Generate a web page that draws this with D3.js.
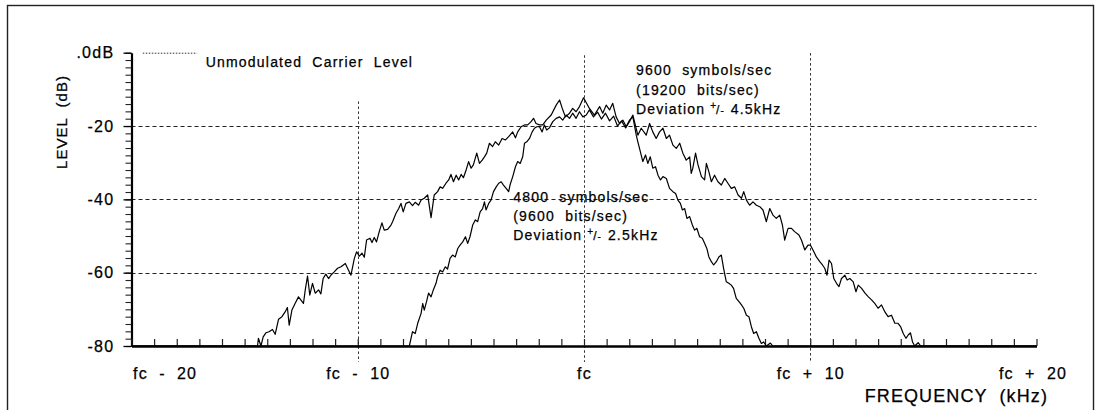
<!DOCTYPE html>
<html><head><meta charset="utf-8">
<script src="https://cdn.jsdelivr.net/npm/d3@7"></script>
<style>
html,body{margin:0;padding:0;background:#fff;}
svg{display:block;font-family:"Liberation Sans",Arial,Helvetica,sans-serif;}
text{white-space:pre;fill:#000;stroke:#000;stroke-width:0.25px;}
</style></head><body>
<svg id="chart" width="1096" height="410"></svg>
<script>
// Spectrum traces: [frequency offset from carrier (kHz), level (dB)]
const wide9600 = [
[-20,-80],[-14.6,-80],[-14.43,-80],[-14.39,-77.9],[-14.28,-80],[-14.18,-77.5],[-14.06,-76.4],[-13.92,-76.1],[-13.77,-75.5],[-13.65,-76.8],
[-13.50,-72.7],[-13.35,-72.0],[-13.21,-70.7],[-13.11,-69.5],[-13.03,-74.3],[-12.91,-70.2],[-12.77,-68.4],[-12.62,-66.6],[-12.51,-67.5],[-12.40,-68.4],
[-12.32,-64.7],[-12.22,-60.9],[-12.12,-66.1],[-12.00,-62.9],[-11.88,-65.6],[-11.73,-64.7],[-11.63,-65.8],[-11.53,-61.6],[-11.41,-60.4],[-11.29,-61.6],
[-11.19,-60.7],[-11.04,-59.8],[-10.89,-58.8],[-10.74,-58.4],[-10.55,-57.5],[-10.45,-58.8],[-10.30,-60.7],[-10.15,-56.1],[-10.05,-54.3],[-9.93,-55.5],
[-9.81,-54.7],[-9.71,-55.8],[-9.61,-51.1],[-9.46,-50.6],[-9.37,-51.8],[-9.27,-50.4],[-9.17,-51.6],[-9.05,-48.8],[-8.93,-46.4],[-8.83,-48.4],
[-8.68,-48.2],[-8.53,-47.0],[-8.46,-46.1],[-8.31,-43.8],[-8.19,-42.5],[-8.09,-41.1],[-7.99,-43.4],[-7.87,-41.1],[-7.72,-40.7],[-7.58,-41.7],
[-7.46,-40.8],[-7.31,-41.6],[-7.20,-40.2],[-7.06,-39.7],[-6.91,-38.8],[-6.76,-45.0],[-6.62,-38.8],[-6.47,-37.9],[-6.36,-36.6],[-6.25,-37.0],
[-6.10,-35.6],[-5.98,-34.7],[-5.88,-33.2],[-5.77,-35.2],[-5.65,-33.4],[-5.54,-34.7],[-5.43,-33.2],[-5.33,-34.1],[-5.21,-32.0],[-5.10,-29.7],
[-4.99,-31.5],[-4.89,-30.6],[-4.74,-27.4],[-4.62,-30.2],[-4.50,-29.3],[-4.40,-28.4],[-4.30,-27.4],[-4.18,-24.7],[-4.04,-25.6],[-3.92,-24.3],
[-3.77,-25.2],[-3.62,-23.4],[-3.47,-23.8],[-3.33,-22.9],[-3.15,-21.6],[-3.03,-23.2],[-2.93,-21.6],[-2.78,-20.2],[-2.63,-19.7],[-2.49,-19.7],
[-2.34,-18.8],[-2.23,-17.9],[-2.12,-19.3],[-1.97,-19.7],[-1.82,-19.7],[-1.67,-18.4],[-1.45,-17.0],[-1.23,-14.3],[-1.08,-12.9],[-0.96,-15.2],
[-0.82,-17.5],[-0.64,-16.5],[-0.50,-15.2],[-0.35,-16.1],[-0.20,-14.7],[-0.02,-12.3],[0.24,-15.2],[0.46,-17.0],[0.69,-14.7],[0.83,-16.5],
[0.98,-14.3],[1.13,-15.6],[1.27,-13.8],[1.42,-17.5],[1.57,-19.3],[1.72,-18.4],[1.87,-20.2],[2.01,-18.8],[2.16,-17.0],[2.38,-22.5],
[2.53,-20.6],[2.75,-22.5],[2.90,-19.3],[3.04,-21.6],[3.19,-23.4],[3.34,-21.6],[3.49,-20.6],[3.64,-23.4],[3.78,-22.5],[3.93,-25.2],
[4.08,-26.1],[4.23,-24.7],[4.37,-27.4],[4.52,-29.3],[4.67,-28.4],[4.74,-32.9],[4.81,-31.5],[4.93,-27.4],[5.04,-30.6],[5.19,-33.8],
[5.33,-34.7],[5.41,-30.2],[5.52,-32.5],[5.63,-35.2],[5.77,-33.4],[5.92,-35.2],[6.07,-36.1],[6.22,-34.3],[6.36,-35.6],[6.51,-37.0],
[6.66,-36.6],[6.81,-38.8],[6.96,-39.7],[7.06,-37.9],[7.18,-40.2],[7.32,-41.6],[7.47,-40.7],[7.62,-41.6],[7.77,-42.0],[7.91,-42.9],
[8.06,-46.1],[8.21,-42.5],[8.35,-44.3],[8.50,-45.2],[8.65,-44.3],[8.77,-47.0],[8.87,-51.1],[9.02,-47.9],[9.17,-47.9],[9.31,-48.8],
[9.50,-49.7],[9.61,-51.1],[9.76,-53.8],[9.90,-52.5],[10.01,-52.5],[10.16,-54.3],[10.27,-55.7],[10.42,-57.0],[10.54,-57.9],[10.64,-58.8],
[10.74,-60.7],[10.83,-56.6],[10.94,-57.5],[11.04,-61.6],[11.16,-62.9],[11.27,-63.8],[11.38,-61.6],[11.53,-60.7],[11.63,-62.0],[11.75,-61.6],
[11.90,-62.5],[12.02,-65.2],[12.12,-63.4],[12.27,-64.3],[12.42,-65.6],[12.57,-66.6],[12.72,-67.5],[12.85,-68.4],[13.00,-69.7],[13.15,-68.8],
[13.30,-70.7],[13.44,-72.0],[13.59,-71.6],[13.74,-73.8],[13.88,-73.8],[14.00,-74.8],[14.11,-76.6],[14.23,-77.9],[14.33,-77.0],[14.43,-76.4],
[14.52,-78.9],[14.62,-80],[14.77,-79.1],[14.88,-80],[20,-80]
];
const narrow4800 = [
[-20,-80],[-7.8,-80],[-7.72,-80],[-7.58,-76.1],[-7.46,-76.6],[-7.35,-73.8],[-7.20,-71.1],[-7.13,-68.4],[-7.06,-70.2],[-6.96,-67.9],
[-6.87,-65.6],[-6.76,-66.6],[-6.66,-64.7],[-6.54,-62.9],[-6.47,-61.1],[-6.36,-59.3],[-6.25,-59.8],[-6.13,-58.4],[-6.03,-59.0],[-5.92,-56.1],
[-5.81,-55.2],[-5.69,-55.7],[-5.58,-53.4],[-5.48,-52.5],[-5.36,-51.6],[-5.24,-50.2],[-5.14,-52.0],[-5.04,-50.2],[-4.92,-47.0],[-4.80,-45.6],
[-4.70,-46.1],[-4.59,-43.4],[-4.48,-42.5],[-4.40,-40.7],[-4.33,-42.9],[-4.21,-41.1],[-4.11,-40.2],[-4.00,-37.9],[-3.88,-36.6],[-3.77,-35.6],
[-3.66,-35.2],[-3.56,-36.1],[-3.44,-37.0],[-3.33,-37.9],[-3.27,-36.1],[-3.15,-33.8],[-3.03,-31.1],[-2.93,-29.7],[-2.82,-30.2],[-2.71,-28.4],
[-2.63,-24.7],[-2.53,-24.3],[-2.41,-23.4],[-2.29,-21.6],[-2.19,-20.6],[-2.09,-20.2],[-1.97,-20.2],[-1.85,-21.6],[-1.75,-19.7],[-1.65,-21.1],
[-1.53,-20.5],[-1.38,-18.8],[-1.23,-17.9],[-1.08,-17.5],[-0.94,-18.4],[-0.79,-17.0],[-0.64,-17.9],[-0.50,-16.5],[-0.35,-17.9],[-0.20,-16.1],
[-0.05,-17.5],[0.10,-17.0],[0.24,-15.6],[0.42,-17.5],[0.60,-16.2],[0.77,-18.1],[0.95,-16.5],[1.13,-18.6],[1.31,-17.3],[1.48,-20.0],
[1.66,-18.6],[1.84,-20.5],[2.01,-18.4],[2.16,-17.5],[2.31,-22.5],[2.38,-24.3],[2.49,-27.0],[2.60,-29.7],[2.72,-27.9],[2.82,-30.2],
[2.93,-28.4],[3.04,-31.5],[3.16,-31.1],[3.27,-33.4],[3.38,-34.7],[3.49,-33.8],[3.64,-34.3],[3.78,-37.0],[3.93,-37.9],[4.05,-38.4],
[4.15,-40.2],[4.26,-41.1],[4.35,-42.9],[4.45,-42.5],[4.55,-45.2],[4.67,-44.7],[4.79,-47.0],[4.89,-48.4],[4.99,-47.9],[5.11,-50.2],
[5.23,-50.6],[5.33,-52.0],[5.43,-53.4],[5.52,-55.7],[5.63,-57.0],[5.73,-57.9],[5.85,-57.0],[5.96,-55.7],[6.07,-55.2],[6.17,-58.8],
[6.29,-62.5],[6.40,-62.9],[6.51,-63.4],[6.61,-64.3],[6.73,-67.0],[6.85,-67.9],[6.96,-68.8],[7.06,-69.7],[7.18,-71.6],[7.29,-72.0],
[7.40,-74.8],[7.50,-76.6],[7.62,-76.1],[7.73,-77.9],[7.84,-79.3],[7.94,-78.9],[8.06,-80],[8.24,-79.2],[8.34,-80],[20,-80]
];

// Axis ticks and labels
const levelTicks = [0, -20, -40, -60, -80];
const levelLabels = [".0dB", "-20", "-40", "-60", "-80"];
const freqTicks = [-20, -10, 0, 10, 20];
const freqLabels = ["fc  -  20", "fc  -  10", "fc", "fc  +  10", "fc  +  20"];
const gridLevels = [-20, -40, -60];
const gridFreqs = [-10, 0, 10];

// Annotation text
const levelTitle = "LEVEL  (dB)";
const freqTitle = "FREQUENCY  (kHz)";
const carrierText = "Unmodulated  Carrier  Level";
const wideNote = ["9600  symbols/sec", "(19200  bits/sec)", "4.5kHz"];
const narrowNote = ["4800  symbols/sec", "(9600  bits/sec)", "2.5kHz"];

const svg = d3.select("#chart");
const x = d3.scaleLinear().domain([-20, 20]).range([131.5, 1036.5]);
const y = d3.scaleLinear().domain([-80, 0]).range([346, 52.7]);

svg.append("rect").attr("width", 1096).attr("height", 410).attr("fill", "#fff");
// outer frame
svg.append("rect").attr("x", 7.5).attr("y", 5.5).attr("width", 1086).attr("height", 420)
  .attr("fill", "none").attr("stroke", "#222").attr("stroke-width", 1.4);

// dashed level grid
svg.append("g").selectAll("line").data(gridLevels).join("line")
  .attr("x1", x(-20)).attr("x2", x(20))
  .attr("y1", d => Math.round(y(d)) + 0.5).attr("y2", d => Math.round(y(d)) + 0.5)
  .attr("stroke", "#222").attr("stroke-width", 1.1).attr("stroke-dasharray", "4,3");

// dashed frequency markers (tops differ, all run just below the axis)
const markerTop = {"-10": -13.3, "0": -0.7, "10": -0.1};
svg.append("g").selectAll("line").data(gridFreqs).join("line")
  .attr("x1", d => Math.round(x(d)) + 0.5).attr("x2", d => Math.round(x(d)) + 0.5)
  .attr("y1", d => y(markerTop[d])).attr("y2", y(-80) + 16)
  .attr("stroke", "#333").attr("stroke-width", 1).attr("stroke-dasharray", "2.5,2.5");

// unmodulated carrier reference
svg.append("line").attr("x1", x(-19.5)).attr("x2", x(-17.1))
  .attr("y1", y(0) + 0.5).attr("y2", y(0) + 0.5)
  .attr("stroke", "#333").attr("stroke-width", 1).attr("stroke-dasharray", "1.5,1.5");

// level axis: minor ticks every 2 dB
const yMinor = svg.append("g").attr("transform", `translate(${x(-20)},0)`)
  .call(d3.axisLeft(y).tickValues(d3.range(-80, 0.1, 2)).tickSize(6).tickSizeOuter(0).tickFormat(""));
yMinor.select(".domain").attr("stroke", "#000").attr("stroke-width", 2.2);
yMinor.selectAll(".tick line").attr("stroke", "#222").attr("stroke-width", 1.1);

const yMajor = svg.append("g").attr("transform", `translate(${x(-20)},0)`)
  .call(d3.axisLeft(y).tickValues(levelTicks).tickSize(8).tickPadding(9)
    .tickFormat(d => levelLabels[levelTicks.indexOf(d)]));
yMajor.select(".domain").remove();
yMajor.selectAll(".tick line").attr("stroke", "#000").attr("stroke-width", 1.3);
yMajor.selectAll("text").attr("font-size", 16).attr("letter-spacing", 1.3)
  .attr("font-family", "Liberation Sans, Arial, sans-serif").attr("fill", "#000");

// frequency axis: ticks every 1 kHz pointing up
const xMinor = svg.append("g").attr("transform", `translate(0,${y(-80)})`)
  .call(d3.axisBottom(x).tickValues(d3.range(-20, 20.1, 1)).tickSize(-7).tickSizeOuter(0).tickFormat(""));
xMinor.select(".domain").attr("stroke", "#000").attr("stroke-width", 2.6);
xMinor.selectAll(".tick line").attr("stroke", "#222").attr("stroke-width", 1.2);

const xLab = svg.append("g").attr("transform", `translate(0,${y(-80)})`)
  .call(d3.axisBottom(x).tickValues(freqTicks).tickSize(0).tickPadding(21.5)
    .tickFormat(d => freqLabels[freqTicks.indexOf(d)]));
xLab.select(".domain").remove();
xLab.selectAll("text").attr("font-size", 16).attr("letter-spacing", 1.2)
  .attr("font-family", "Liberation Sans, Arial, sans-serif").attr("fill", "#000");
xLab.selectAll(".tick").filter(d => d === -20).select("text").attr("text-anchor", "start").attr("dx", 1);
xLab.selectAll(".tick").filter(d => d === 20).select("text").attr("dx", -4);

// spectrum traces
const line = d3.line().x(d => x(d[0])).y(d => y(d[1]));
[wide9600, narrow4800].forEach(s => {
  svg.append("path").datum(s).attr("d", line).attr("fill", "none")
    .attr("stroke", "#000").attr("stroke-width", 1.2).attr("stroke-linejoin", "round");
});

// titles
svg.append("text").attr("transform", "translate(66.5,122) rotate(-90)")
  .attr("text-anchor", "middle").attr("font-size", 15).attr("letter-spacing", 1)
  .text(levelTitle);
svg.append("text").attr("x", 1048).attr("y", 402).attr("text-anchor", "end")
  .attr("font-size", 18).attr("letter-spacing", 1.1).text(freqTitle);

svg.append("text").attr("x", x(-16.72)).attr("y", 66.5)
  .attr("font-size", 14).attr("letter-spacing", 1.2).text(carrierText);

function note(lines, fx, baselines) {
  const g = svg.append("g").attr("font-size", 14).attr("letter-spacing", 1.2);
  g.append("text").attr("x", x(fx)).attr("y", baselines[0]).text(lines[0]);
  g.append("text").attr("x", x(fx)).attr("y", baselines[1]).text(lines[1]);
  const t = g.append("text").attr("x", x(fx)).attr("y", baselines[2]);
  t.append("tspan").text("Deviation");
  t.append("tspan").attr("dx", 5).attr("dy", -5).attr("font-size", 10).attr("letter-spacing", 0).text("+");
  t.append("tspan").attr("dy", 5).attr("font-size", 12).attr("letter-spacing", 0).text("/");
  t.append("tspan").attr("dx", 1).attr("font-size", 10).attr("letter-spacing", 0).text("-");
  t.append("tspan").attr("dx", 7).text(lines[2]);
}
note(wideNote, 2.3, [75, 94.5, 114]);
note(narrowNote, -3.13, [201.5, 221, 240]);
</script>
</body></html>
